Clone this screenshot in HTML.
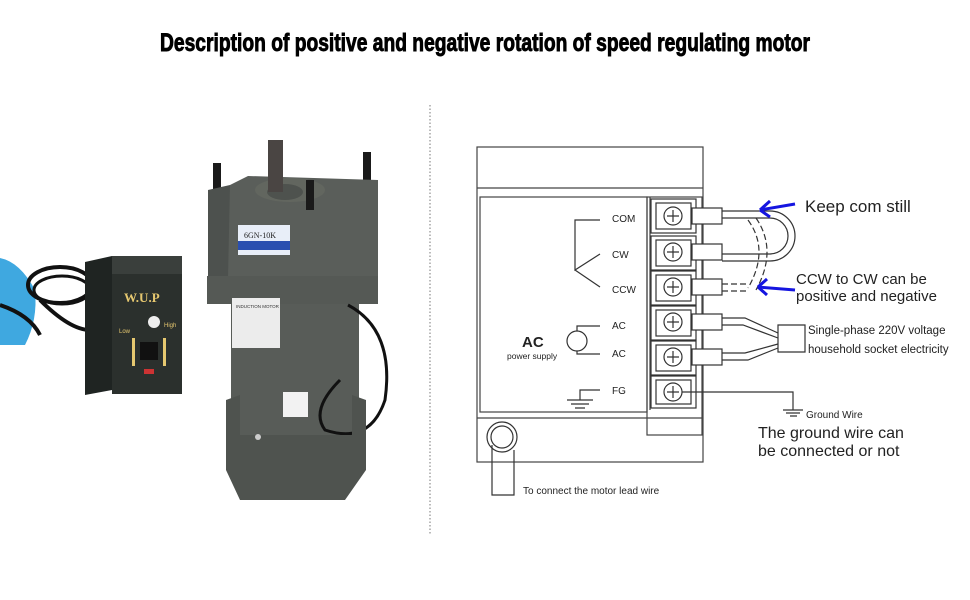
<!DOCTYPE html>
<html><head><meta charset="utf-8"><style>
html,body{margin:0;padding:0;background:#fff;}
svg{display:block;font-family:"Liberation Sans",sans-serif;}
</style></head><body>
<svg width="970" height="600" viewBox="0 0 970 600" xmlns="http://www.w3.org/2000/svg">
<rect width="970" height="600" fill="#fff"/>
<text x="160" y="51" font-size="25" font-weight="bold" textLength="650" lengthAdjust="spacingAndGlyphs" fill="#000" stroke="#000" stroke-width="0.9">Description of positive and negative rotation of speed regulating motor</text>
<line x1="430" y1="105" x2="430" y2="535" stroke="#777" stroke-dasharray="1.5,2"/>

<!-- ===== photo approximation ===== -->
<path d="M0 258 Q20 262 35 290 Q38 320 25 345 L0 345 Z" fill="#3fa8e0"/>
<path d="M0 305 Q30 315 40 335" stroke="#111" stroke-width="4" fill="none"/>
<ellipse cx="60" cy="285" rx="32" ry="18" fill="none" stroke="#111" stroke-width="4"/>
<ellipse cx="62" cy="290" rx="28" ry="14" fill="none" stroke="#111" stroke-width="3"/>
<path d="M40 300 Q70 330 90 330" stroke="#111" stroke-width="4" fill="none"/>
<polygon points="85,262 112,256 112,390 85,395" fill="#1f2422"/>
<rect x="112" y="274" width="70" height="120" fill="#2b302d"/>
<rect x="112" y="256" width="70" height="18" fill="#3a3f3c"/>
<text x="124" y="302" font-size="13" font-weight="bold" fill="#e6c870" font-family="Liberation Serif,serif">W.U.P</text>
<circle cx="154" cy="322" r="6" fill="#eee"/>
<text x="119" y="333" font-size="6" fill="#e6c870">Low</text>
<text x="164" y="327" font-size="6" fill="#e6c870">High</text>
<rect x="132" y="338" width="3" height="28" fill="#e6c870"/>
<rect x="163" y="338" width="3" height="28" fill="#e6c870"/>
<rect x="140" y="342" width="18" height="18" fill="#111"/>
<rect x="144" y="369" width="10" height="5" fill="#c33"/>
<!-- motor -->
<rect x="213" y="163" width="8" height="28" fill="#1a1a1a"/>
<rect x="363" y="152" width="8" height="38" fill="#1a1a1a"/>
<polygon points="230,185 248,176 378,180 378,276 222,276 208,240" fill="#5a5e5a"/>
<ellipse cx="290" cy="190" rx="35" ry="12" fill="#62665f"/>
<ellipse cx="285" cy="192" rx="18" ry="8" fill="#4e524e"/>
<rect x="268" y="140" width="15" height="52" fill="#4a4543"/>
<rect x="306" y="180" width="8" height="30" fill="#1a1a1a"/>
<polygon points="208,190 230,185 228,278 208,278" fill="#4d514e"/>
<rect x="207" y="276" width="171" height="28" fill="#555955"/>
<rect x="238" y="225" width="52" height="30" fill="#e8eef8"/>
<rect x="238" y="241" width="52" height="9" fill="#2a4fb0"/>
<text x="244" y="238" font-size="8" font-family="Liberation Serif,serif" fill="#222">6GN-10K</text>
<rect x="231" y="304" width="128" height="165" fill="#585c58"/>
<rect x="232" y="298" width="48" height="50" fill="#ececec"/>
<text x="236" y="308" font-size="4.5" fill="#333">INDUCTION MOTOR</text>
<path d="M348 305 Q395 330 385 400 Q370 445 325 430 Q310 410 340 380" stroke="#111" stroke-width="3" fill="none"/>
<rect x="283" y="392" width="25" height="25" fill="#f2f2f2"/>
<polygon points="226,400 240,395 240,435 352,435 352,395 366,400 366,470 345,500 240,500 226,470" fill="#4f534f"/>
<circle cx="258" cy="437" r="3" fill="#ccc"/>

<!-- ===== wiring diagram ===== -->
<g stroke="#444" stroke-width="1.2" fill="none">
<rect x="477" y="147" width="226" height="315"/>
<line x1="477" y1="188" x2="703" y2="188"/>
<rect x="480" y="197" width="167" height="215"/>
<line x1="477" y1="418" x2="703" y2="418"/>
<rect x="647" y="197" width="55" height="238"/>
<line x1="650" y1="197" x2="650" y2="410"/>
</g>
<g stroke="#333" stroke-width="1.2" fill="#fff">
<rect x="651" y="199" width="45" height="34"/><rect x="656" y="203" width="35" height="26"/>
<circle cx="673" cy="216" r="9"/><path d="M667 216h12M673 210v12" fill="none"/>
<rect x="651" y="236" width="45" height="34"/><rect x="656" y="240" width="35" height="26"/>
<circle cx="673" cy="252" r="9"/><path d="M667 252h12M673 246v12" fill="none"/>
<rect x="651" y="271" width="45" height="34"/><rect x="656" y="275" width="35" height="26"/>
<circle cx="673" cy="287" r="9"/><path d="M667 287h12M673 281v12" fill="none"/>
<rect x="651" y="306" width="45" height="34"/><rect x="656" y="310" width="35" height="26"/>
<circle cx="673" cy="322" r="9"/><path d="M667 322h12M673 316v12" fill="none"/>
<rect x="651" y="341" width="45" height="34"/><rect x="656" y="345" width="35" height="26"/>
<circle cx="673" cy="357" r="9"/><path d="M667 357h12M673 351v12" fill="none"/>
<rect x="651" y="376" width="45" height="32"/><rect x="656" y="380" width="35" height="24"/>
<circle cx="673" cy="392" r="9"/><path d="M667 392h12M673 386v12" fill="none"/>
<rect x="692" y="208" width="30" height="16"/>
<rect x="692" y="244" width="30" height="16"/>
<rect x="692" y="279" width="30" height="16"/>
<rect x="692" y="314" width="30" height="16"/>
<rect x="692" y="349" width="30" height="16"/>
</g>
<g stroke="#333" stroke-width="1.2" fill="none">
<path d="M600 220H575V270L600 254M575 270L600 287"/>
<circle cx="577" cy="341" r="10"/>
<path d="M577 331V326H600M577 351V354H600"/>
<path d="M600 390H580V400M567 400H593M571 404H589M575 408H585"/>
<circle cx="502" cy="437" r="15"/><circle cx="502" cy="437" r="11"/>
<path d="M492 445V495H514V450"/>
<path d="M722 211H770A25 25 0 0 1 770 261H722"/>
<path d="M722 218H770A18 18 0 0 1 770 254H722"/>
<path d="M722 284H748M722 291H748" stroke-dasharray="6,3"/>
<path d="M748 220Q770 250 748 288M756 218Q778 250 756 290" stroke-dasharray="6,3"/>
<path d="M722 318H745L778 333M722 325H743L778 338"/>
<path d="M722 353H745L778 344M722 360H748L778 348"/>
<path d="M778 325H805V352H778Z" fill="#fff"/>
<path d="M682 392H793V410M783 410H803M786 413H800M790 416H797"/>
</g>
<g stroke="#1515e0" stroke-width="3" fill="none">
<path d="M795 204L760 210"/><path d="M760 210l10-9M760 210l10 7"/>
<path d="M795 290L758 287"/><path d="M758 287l9-8M758 287l9 8"/>
</g>
<g fill="#222" font-size="10">
<text x="612" y="222">COM</text>
<text x="612" y="258">CW</text>
<text x="612" y="293">CCW</text>
<text x="612" y="329">AC</text>
<text x="612" y="357">AC</text>
<text x="612" y="394">FG</text>
<text x="522" y="347" font-size="15" font-weight="bold">AC</text>
<text x="507" y="359" font-size="8.5">power supply</text>
<text x="523" y="494">To connect the motor lead wire</text>
<text x="806" y="418">Ground Wire</text>
<text x="805" y="212" font-size="17">Keep com still</text>
<text x="796" y="284" font-size="15">CCW to CW can be</text>
<text x="796" y="301" font-size="15">positive and negative</text>
<text x="808" y="334" font-size="11.5">Single-phase 220V voltage</text>
<text x="808" y="353" font-size="11.5">household socket electricity</text>
<text x="758" y="438" font-size="16">The ground wire can</text>
<text x="758" y="456" font-size="16">be connected or not</text>
</g>
</svg>
</body></html>
